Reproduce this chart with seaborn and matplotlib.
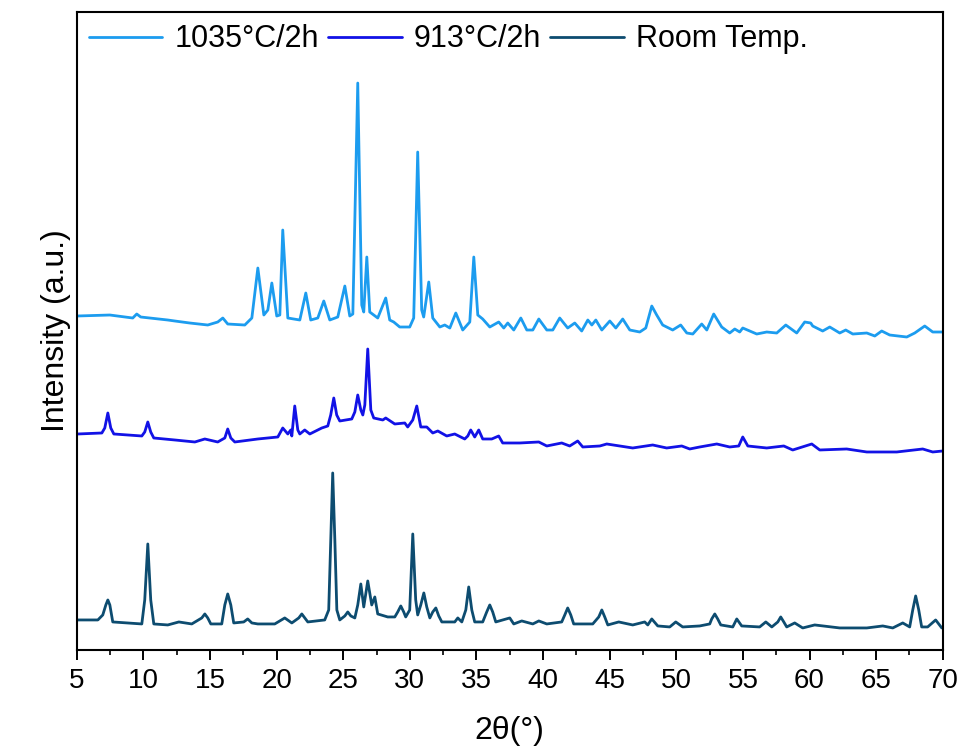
import numpy as np
import pandas as pd
import matplotlib
matplotlib.use('Agg')
import matplotlib.pyplot as plt
from matplotlib.ticker import MultipleLocator
import seaborn as sns

# XRD patterns (2theta in degrees, intensity in a.u., stacked)
TTH_1035 = [5.00, 7.48, 9.20, 9.50, 9.80, 11.83, 12.36, 13.48, 14.83, 15.58, 15.96, 16.33,
            17.61, 18.14, 18.59, 19.04, 19.34, 19.64, 20.01, 20.24, 20.46, 20.84, 21.74, 22.19,
            22.56, 23.09, 23.54, 23.99, 24.59, 25.12, 25.49, 25.72, 26.09, 26.39, 26.54, 26.77,
            26.99, 27.59, 28.19, 28.49, 28.79, 29.24, 29.99, 30.29, 30.59, 30.89, 31.04, 31.42,
            31.72, 32.25, 32.62, 33.00, 33.45, 33.97, 34.50, 34.80, 35.10, 35.47, 36.00, 36.67,
            37.05, 37.35, 37.80, 38.33, 38.78, 39.23, 39.68, 40.28, 40.73, 41.25, 41.85, 42.38,
            42.90, 43.36, 43.66, 43.96, 44.41, 45.01, 45.46, 45.98, 46.51, 47.26, 47.71, 48.16,
            48.53, 48.98, 49.73, 50.33, 50.79, 51.24, 51.91, 52.29, 52.81, 53.41, 54.01, 54.39,
            54.76, 54.99, 56.04, 56.79, 57.54, 58.22, 59.04, 59.64, 60.09, 60.24, 60.99, 61.52,
            62.27, 62.72, 63.25, 64.30, 64.90, 65.42, 66.02, 67.30, 67.90, 68.65, 69.25, 70.00]
INT_1035 = [334, 335, 332, 336, 333, 330, 329, 327, 325, 328, 332, 326,
            325, 332, 382, 335, 340, 367, 334, 335, 420, 332, 330, 357,
            330, 332, 349, 330, 333, 364, 334, 336, 567, 345, 338, 393,
            338, 332, 352, 330, 328, 323, 323, 332, 498, 340, 333, 368,
            332, 323, 325, 322, 337, 320, 328, 393, 335, 331, 323, 328,
            322, 327, 320, 332, 320, 320, 331, 320, 320, 332, 322, 327,
            319, 330, 325, 330, 320, 329, 322, 331, 320, 318, 322, 344,
            335, 325, 320, 325, 317, 316, 326, 320, 336, 323, 317, 321,
            318, 322, 316, 318, 317, 325, 317, 328, 327, 324, 319, 323,
            317, 320, 316, 317, 314, 319, 315, 313, 317, 324, 318, 318]

TTH_913 = [5.08, 6.88, 7.10, 7.33, 7.55, 7.78, 9.88, 10.10, 10.33, 10.55, 10.78, 12.36,
           13.86, 14.61, 15.58, 16.11, 16.33, 16.56, 16.86, 18.59, 20.09, 20.46, 20.84, 21.06,
           21.14, 21.36, 21.59, 21.74, 22.11, 22.49, 23.39, 23.84, 24.06, 24.29, 24.51, 24.74,
           25.64, 25.87, 26.09, 26.32, 26.47, 26.62, 26.84, 27.07, 27.29, 27.97, 28.19, 28.87,
           29.62, 29.84, 30.22, 30.52, 30.82, 31.27, 31.72, 32.10, 32.77, 33.37, 34.12, 34.35,
           34.57, 34.87, 35.17, 35.47, 36.15, 36.67, 36.97, 38.25, 39.68, 40.28, 41.40, 42.00,
           42.60, 42.98, 44.26, 44.78, 46.73, 48.23, 49.28, 50.41, 51.01, 51.76, 53.04, 54.01,
           54.69, 54.99, 55.37, 56.79, 58.07, 58.74, 60.17, 60.77, 62.79, 64.30, 66.55, 68.50,
           69.25, 70.00]
INT_913 = [216, 217, 222, 237, 222, 216, 214, 218, 228, 218, 212, 210,
           208, 211, 208, 212, 221, 212, 208, 211, 213, 222, 216, 220,
           214, 244, 220, 216, 220, 216, 222, 224, 235, 252, 235, 229,
           231, 238, 255, 240, 235, 245, 301, 240, 232, 230, 232, 226,
           227, 223, 230, 244, 223, 223, 217, 219, 214, 216, 211, 214,
           220, 213, 220, 211, 211, 214, 207, 207, 208, 204, 207, 204,
           209, 203, 204, 206, 202, 205, 202, 204, 201, 203, 206, 203,
           204, 213, 204, 202, 204, 200, 206, 200, 201, 198, 198, 201,
           198, 199]

TTH_RT = [5.08, 6.58, 6.95, 7.18, 7.33, 7.48, 7.70, 9.88, 10.10, 10.33, 10.55, 10.78,
          11.83, 12.66, 13.63, 14.38, 14.61, 14.83, 15.06, 15.88, 16.11, 16.33, 16.56, 16.78,
          17.53, 17.83, 18.14, 18.59, 19.86, 20.61, 21.14, 21.66, 21.89, 22.11, 22.34, 23.61,
          23.91, 24.06, 24.21, 24.37, 24.52, 24.74, 25.12, 25.34, 25.57, 25.87, 26.09, 26.32,
          26.54, 26.84, 27.14, 27.37, 27.59, 28.34, 28.87, 29.09, 29.32, 29.54, 29.69, 29.99,
          30.22, 30.44, 30.59, 30.82, 31.05, 31.27, 31.50, 31.72, 31.95, 32.17, 32.40, 33.37,
          33.60, 33.90, 34.20, 34.42, 34.65, 34.87, 35.47, 35.77, 36.00, 36.22, 36.45, 37.50,
          37.80, 38.40, 39.23, 39.68, 40.28, 41.40, 41.63, 41.85, 42.08, 42.30, 43.73, 44.18,
          44.41, 44.63, 44.86, 45.68, 46.73, 47.63, 47.86, 48.16, 48.61, 49.51, 49.96, 50.48,
          51.76, 52.51, 52.66, 52.89, 53.11, 53.34, 54.24, 54.54, 54.91, 56.26, 56.72, 57.17,
          57.62, 57.84, 58.07, 58.29, 58.89, 59.49, 60.39, 62.27, 64.30, 65.50, 66.25, 67.00,
          67.52, 67.75, 67.97, 68.20, 68.42, 68.87, 69.47, 69.93]
INT_RT = [30, 30, 35, 45, 50, 45, 28, 26, 50, 106, 50, 26,
          25, 28, 26, 32, 36, 32, 26, 26, 45, 56, 45, 27,
          28, 31, 27, 26, 26, 32, 27, 32, 36, 32, 28, 30,
          40, 110, 177, 110, 40, 30, 34, 38, 34, 32, 45, 66,
          43, 69, 45, 53, 36, 33, 33, 38, 44, 38, 33, 40,
          116, 50, 35, 45, 57, 43, 32, 38, 42, 34, 28, 28,
          32, 28, 40, 63, 40, 28, 28, 38, 45, 38, 28, 32,
          26, 29, 26, 29, 26, 28, 35, 42, 35, 26, 26, 33,
          40, 33, 25, 28, 25, 28, 25, 31, 24, 23, 28, 23,
          24, 26, 31, 36, 31, 25, 23, 31, 24, 23, 28, 23,
          28, 33, 28, 23, 27, 22, 25, 22, 22, 24, 22, 27,
          23, 40, 54, 40, 23, 23, 30, 22]

SAMPLES = ['1035°C/2h', '913°C/2h', 'Room Temp.']
COLORS = {'1035°C/2h': '#1c9cef', '913°C/2h': '#1212e6', 'Room Temp.': '#0d4c70'}

df = pd.concat([
    pd.DataFrame({'tth': TTH_1035, 'intensity': INT_1035, 'sample': SAMPLES[0]}),
    pd.DataFrame({'tth': TTH_913, 'intensity': INT_913, 'sample': SAMPLES[1]}),
    pd.DataFrame({'tth': TTH_RT, 'intensity': INT_RT, 'sample': SAMPLES[2]}),
], ignore_index=True)

sns.set_style('white')
plt.rcParams['font.family'] = ['Liberation Sans', 'DejaVu Sans']
plt.rcParams['text.color'] = 'black'
plt.rcParams['axes.labelcolor'] = 'black'
plt.rcParams['xtick.color'] = 'black'

fig = plt.figure(figsize=(9.6, 7.54), dpi=100)
ax = fig.add_axes([0.080, 0.138, 0.902, 0.846])

sns.lineplot(data=df, x='tth', y='intensity', hue='sample', hue_order=SAMPLES,
             palette=COLORS, estimator=None, sort=False, linewidth=2.0, ax=ax)

ax.set_xlim(5, 70)
ax.set_ylim(0, 638)
ax.xaxis.set_major_locator(MultipleLocator(5))
ax.xaxis.set_minor_locator(MultipleLocator(2.5))
ax.tick_params(axis='x', which='major', direction='out', length=7, width=1.4,
               labelsize=20, pad=6, bottom=True, colors='black')
ax.tick_params(axis='x', which='minor', direction='out', length=3.5, width=1.2,
               bottom=True, colors='black')
ax.set_yticks([])
for sp in ax.spines.values():
    sp.set_linewidth(1.5)
    sp.set_color('black')

ax.set_xlabel('2θ(°)', fontsize=23, labelpad=16, color='black')
ax.set_ylabel('Intensity (a.u.)', fontsize=23, labelpad=4, color='black')

handles, labels = ax.get_legend_handles_labels()
for h in handles:
    h.set_linewidth(2.0)
leg = ax.legend(handles, labels, loc='upper left', bbox_to_anchor=(0, 1), ncol=3,
                frameon=False, fontsize=22, handlelength=2.4, handletextpad=0.4,
                columnspacing=0.3, borderaxespad=0.15, borderpad=0.25)
for t in leg.get_texts():
    t.set_color('black')

plt.savefig('out.png', dpi=100, facecolor='white')
plt.close()
